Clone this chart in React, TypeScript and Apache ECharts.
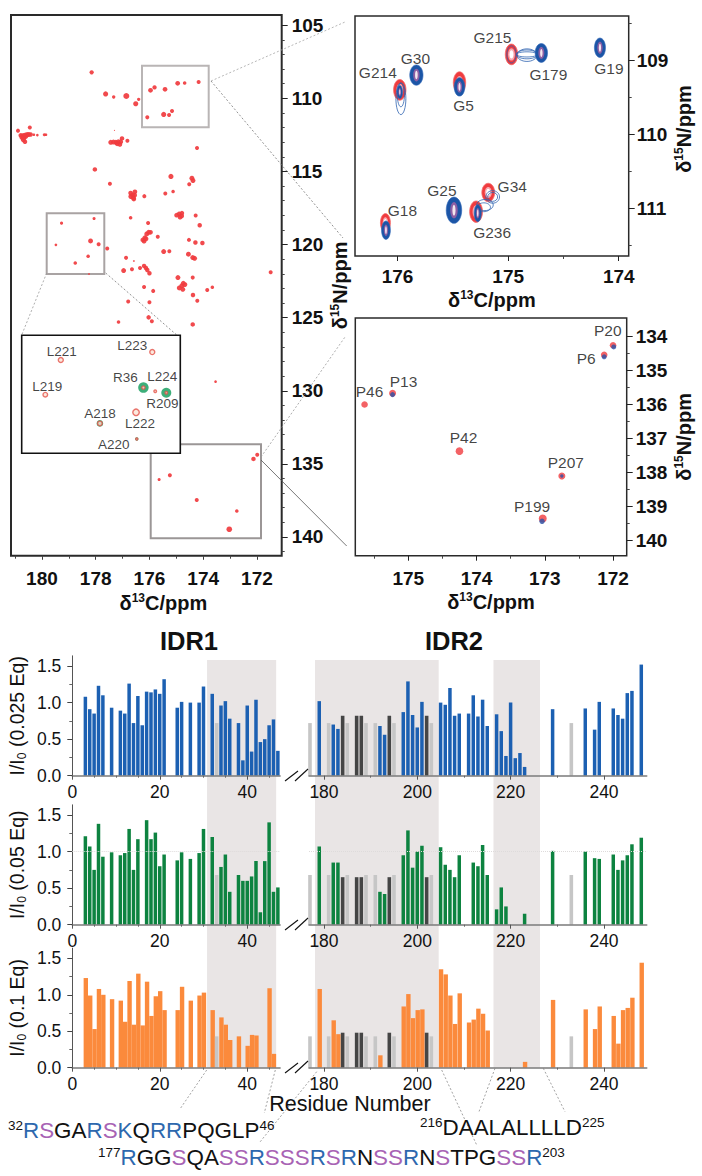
import React, { useEffect, useRef } from "react";
import * as echarts from "echarts";

const FONT = "Liberation Sans";

// ---------- overview 13C/15N spectrum: [δ13C, δ15N, peak strength]
const overviewPeaks = [
  [178.15,108.22,3.8],[177.63,109.70,4.6],[177.33,109.91,3],[176.86,109.84,5.4],[176.51,110.37,4.6],[176.40,110.07,3],
  [175.96,109.45,4.2],[175.81,109.25,3.8],[175.42,109.38,4.2],[174.95,108.97,4.2],[174.69,108.95,3.2],[174.17,108.88,3.6],
  [176.08,111.30,3.6],[175.47,111.10,4.6],[175.27,111.14,3.6],[175.16,110.87,3.6],
  [180.89,112.21,3.6],[180.45,111.99,3.6],[180.79,112.53,4],[180.72,112.56,4.5],[180.65,112.53,4.5],[180.57,112.49,4.5],[180.50,112.47,4.5],[180.42,112.47,4],
  [180.74,112.67,4.5],[180.67,112.69,4.5],[180.60,112.60,4.5],[180.69,112.83,4.5],[180.63,112.97,4],
  [180.30,112.49,2.4],[180.17,112.51,2.4],[179.91,112.49,2.8],[179.85,112.49,2.4],[177.30,112.19,1],
  [177.44,113.01,4.4],[177.34,112.99,4.4],[177.25,113.01,4.4],[177.16,112.97,4.4],[177.07,112.97,4.4],[177.02,112.74,4],[177.10,113.15,4.2],[177.20,113.11,4.2],
  [176.82,112.90,3.6],[174.23,113.40,3.6],[178.03,114.86,4],[177.47,115.84,3.6],[175.20,115.34,4.6],[174.42,115.46,4.4],[174.38,115.62,4.4],[174.52,115.87,3.6],
  [175.41,116.51,3.6],[175.12,116.37,3.2],[176.19,116.69,3.6],
  [176.70,116.48,4.2],[176.63,116.62,4.5],[176.54,116.39,4.2],[176.69,116.71,4.5],[176.60,116.80,4.5],[176.55,116.62,4.2],[176.58,116.89,4.2],
  [174.99,117.99,4.2],[174.89,117.90,4.2],[174.80,118.04,4.2],[174.86,118.13,4.2],[174.79,117.85,4],
  [174.28,118.01,3.6],[174.13,118.68,4],[176.70,118.17,3.2],[176.05,118.52,3.6],
  [176.25,119.68,4],[176.17,119.54,4.4],[176.10,119.27,4.4],[176.03,119.16,4.4],[175.96,119.16,4.2],[176.20,119.77,4.2],[176.13,119.61,4.4],
  [175.69,119.47,3.6],[174.53,119.68,3.6],[174.29,119.86,4],[174.03,119.89,4],[177.57,120.27,3.6],[175.47,120.48,4.4],[175.26,120.46,3.6],[174.55,120.66,4.4],
  [174.39,120.89,4.4],[174.32,120.94,4.4],[176.87,120.91,3.6],[176.58,121.12,1.5],[176.96,121.78,4.4],[176.65,121.69,3.6],[176.35,121.60,3.6],
  [176.20,121.46,4],[176.13,121.60,4],[176.08,121.74,4],[176.00,121.96,4],[174.94,122.26,4.4],[174.39,122.26,3.6],[171.49,121.89,3.6],[176.20,122.90,3.6],[175.86,123.17,3.6],
  [174.74,122.65,4.4],[174.80,122.83,4.4],[174.89,122.97,4.4],[174.76,123.06,4.4],[174.68,122.74,4.2],
  [174.38,123.45,4],[173.85,123.11,3.6],[173.66,122.92,3.2],[174.22,123.84,3.6],[176.79,123.90,3.6],[176.00,123.95,3.6],
  [176.03,124.98,4],[175.91,125.25,3.6],[177.15,125.30,3.2],[174.39,125.46,4],[173.54,129.38,2.4],[171.99,134.38,3.6],[172.13,134.66,4],[175.24,135.78,3.6],
  [175.64,136.07,2.8],[174.24,137.47,3.6],[172.75,138.22,3.2],[173.03,139.47,5],
  [179.27,118.54,2.8],[178.06,118.22,2.8],[178.19,119.75,4.4],[177.89,119.98,3.6],[179.48,120.02,2.4],[178.28,120.80,3.2],[178.76,121.26,3.2],[178.25,122.01,1.5],
];

// ---------- expanded L/A/R region: names, [δ13C, δ15N, strength]
const insetPeakNames = ["L221","L223","L219","R36","L224","R209","L222","A218","A220"];
const insetRedPeaks = [[179.30,118.77,5],[178.06,118.49,5],[179.51,119.99,4.6],[178.18,119.74,3.2],[178.02,119.87,2.6],[177.87,119.92,2.4],[178.28,120.61,6.5],[178.77,121.00,4.6],[178.27,121.55,2]];
const insetGreenPeaks = [[178.18,119.74,10.5],[177.87,119.92,10],[178.77,121.00,6.6],[178.27,121.55,3.4]];

// ---------- expanded glycine region: [δ13C, δ15N, half-width C, half-width N]
const glycineNames = ["G214","G30","G5","G215","G179","G19","G34","G236","G25","G18"];
const glycineCentres = [[175.98,109.40],[175.83,109.20],[175.44,109.33],[174.97,108.92],[174.70,108.90],[174.17,108.83],[175.18,110.79],[175.29,111.05],[175.49,111.03],[176.11,111.23]];
const glycineRed = [[175.98,109.40,.056,.14],[175.44,109.30,.056,.145],[174.97,108.92,.056,.14],[175.18,110.79,.058,.125],[175.29,111.05,.058,.145],[176.11,111.20,.045,.125]];
const glycineBlue = [[175.83,109.20,.06,.138],[175.44,109.36,.048,.125],[174.70,108.90,.056,.128],[174.17,108.83,.05,.132],[175.49,111.03,.07,.178],[176.105,111.30,.04,.125],[175.275,111.07,.032,.115],[175.98,109.43,.025,.09]];
const glycineContours = [[175.97,109.52,.045,.215],[175.97,109.47,.032,.16],[174.97,108.92,.042,.115],[174.83,108.92,.095,.035],[174.83,108.92,.095,.06],[174.83,108.93,.09,.085],[175.14,110.85,.062,.085],[175.14,110.85,.045,.06],[175.21,110.96,.075,.075],[175.22,110.99,.06,.06]];

// ---------- expanded proline region
const prolineNames = ["P20","P6","P13","P46","P42","P207","P199"];
const prolineRed = [[172.0,134.27,6.6],[172.13,134.55,6.6],[175.23,135.68,7],[175.64,136.01,6.6],[174.25,137.38,7.6],[172.75,138.11,7],[173.03,139.36,8]];
const prolineBlue = [[171.99,134.32,5],[172.13,134.61,5],[175.23,135.72,5],[172.75,138.11,3.4],[173.04,139.44,5.4]];
const prolineCentres = [[171.99,134.31],[172.13,134.60],[175.23,135.71],[175.64,136.01],[174.25,137.38],[172.75,138.11],[173.04,139.43]];

// ---------- intensity ratios: [residue, I/I0]
const blueLeft = [[3,1.08],[4,.91],[5,.85],[6,1.23],[7,1.10],[9,.93],[11,.89],[12,.85],[13,1.26],[14,.72],[15,1.09],[16,.69],[17,1.15],[18,1.14],[19,1.18],[20,1.12],[21,1.32],[24,.93],[25,1.01],[27,1.00],[29,1.00],[30,1.22],[32,1.12],[34,.96],[35,1.02],[36,.78],[38,.72],[39,.21],[40,.96],[41,.33],[42,1.04],[43,.46],[44,.50],[45,.69],[46,.77],[47,.34]];
const blueRight = [[179,1.02],[182,.70],[183,.64],[192,.68],[193,.56],[197,.87],[198,1.29],[199,.83],[200,.66],[201,1.01],[205,1.00],[206,.97],[207,1.20],[208,.82],[209,.85],[211,.85],[212,1.10],[213,.81],[214,1.04],[215,.68],[217,.84],[218,.61],[219,.27],[220,1.00],[221,.24],[222,.31],[223,.12],[229,.91],[236,.92],[238,.63],[239,1.01],[242,.92],[243,.83],[244,.78],[245,1.13],[246,1.16],[248,1.52]];
const greenLeft = [[3,1.21],[4,1.07],[5,.75],[6,1.38],[7,.93],[9,.99],[11,.95],[12,.98],[13,1.31],[14,.75],[15,1.17],[17,1.43],[18,1.17],[19,1.26],[20,.80],[21,.96],[24,.88],[25,.99],[27,.90],[29,.98],[30,1.31],[32,1.20],[34,.79],[35,.96],[36,.45],[38,.68],[39,.60],[40,.60],[41,.66],[42,.87],[43,.17],[44,.87],[45,1.40],[46,.45],[47,.51]];
const greenRight = [[179,1.07],[182,.85],[183,.85],[192,.45],[193,.42],[197,.95],[198,1.29],[199,.78],[200,1.00],[201,1.08],[205,1.06],[206,.82],[207,.75],[208,.65],[209,.95],[212,.85],[213,.80],[214,1.09],[215,.68],[217,.21],[218,.51],[219,.25],[223,.15],[229,1.01],[236,1.00],[238,.91],[239,.90],[242,.96],[243,.75],[244,.88],[245,.95],[246,1.10],[248,1.19]];
const orangeLeft = [[3,1.23],[4,.99],[5,.53],[6,1.08],[7,1.00],[9,.94],[11,.92],[12,.63],[13,1.19],[14,.59],[15,1.29],[16,.58],[17,1.18],[18,.71],[19,.98],[20,1.05],[21,.79],[24,.79],[25,1.11],[27,.92],[29,.99],[30,1.03],[32,.79],[34,.69],[35,.59],[36,.38],[38,.43],[40,.30],[41,.45],[42,.44],[45,1.09],[46,.19]];
const orangeRight = [[179,1.08],[182,.65],[183,.46],[192,.17],[197,.84],[198,1.01],[199,.68],[200,.79],[201,.80],[205,1.35],[206,1.28],[207,.99],[208,.60],[209,1.02],[211,.62],[212,.66],[213,.81],[214,.74],[215,.51],[223,.08],[229,.93],[236,.80],[238,.53],[239,.84],[242,.71],[243,.33],[244,.79],[245,.82],[246,.96],[248,1.44]];

const unassignedLeft = [33];
const unassignedRight = [177,181,185,189,191,195,203,233];
const overlappedRight = [184,187,188,194,202];
const unassignedValues = [.72,.68,.43];
const overlappedValues = [.82,.65,.48];

const idrRangesLeft = [[30.8,46.6]];
const idrRangesRight = [[178.07,204.58],[216.32,226.28]];

const doseLabels = ["0.025","0.05","0.1"];
const ratioTicks = [0,.5,1,1.5];
const ratioMinorTicks = [.25,.75,1.25];
const residueTicksLeft = [0,20,40];
const residueMinorLeft = [5,10,15,25,30,35,45];
const residueTicksRight = [180,200,220,240];
const residueMinorRight = [190,210,230];

const overviewCTicks = [172,174,176,178,180];
const overviewCMinor = [172,173,174,175,176,177,178,179,180,181];
const overviewNTicks = [105,110,115,120,125,130,135,140];
const overviewNMinor = [106,107,108,109,111,112,113,114,116,117,118,119,121,122,123,124,126,127,128,129,131,132,133,134,136,137,138,139,141];

const glycineCTicks = [174,175,176];
const glycineCMinor = [174.5,175.5];
const glycineNTicks = [109,110,111];
const glycineNMinor = [108.5,109.5,110.5,111.5];
const prolineCTicks = [172,173,174,175];
const prolineCMinor = [172.5,173.5,174.5,175.5];
const prolineNTicks = [134,135,136,137,138,139,140];
const prolineNMinor = [134.5,135.5,136.5,137.5,138.5,139.5];

// ---------- sequence strings; each residue's class drives its colour
const seqIDR1 = "RSGARSKQRRPQGLP";
const seqIDR2 = "RGGSQASSRSSSRSRNSSRNSTPGSSR";
const seqLoop = "DAALALLLLD";

// ---------- label placement tables (screen px from the peak)
const insetOffsets = [[1,-9],[-20,-7],[2,-8],[-18,-10],[7,-15],[-4,11],[4,11],[0,-10],[-23,5]];
const glycineOffsets = [[-22,-17],[-1,-17],[4,21],[-19,-17],[7,22],[9,21],[24,-6],[16,21],[-12,-20],[17,-14]];
const prolineOffsets = [[-6,-16],[-18,2],[11,-13],[5,-13],[4,-14],[4,-14],[-10,-14]];

const seqMarkup = (s: string, startNo: string, endNo: string) =>
  `{sup|${startNo}}` +
  s.split("").map((c) => (c === "R" || c === "K" ? `{b|${c}}` : c === "S" ? `{p|${c}}` : `{k|${c}}`)).join("") +
  `{sup|${endNo}}`;

const SEQ_SIZE = 22.4;
const seqRich = {
  k: { fontFamily: FONT, fontSize: SEQ_SIZE, fill: "#111", color: "#111", lineHeight: 24 },
  b: { fontFamily: FONT, fontSize: SEQ_SIZE, fill: "#2d68ae", color: "#2d68ae", lineHeight: 24 },
  p: { fontFamily: FONT, fontSize: SEQ_SIZE, fill: "#a863b4", color: "#a863b4", lineHeight: 24 },
  sup: { fontFamily: FONT, fontSize: 13.5, fill: "#111", color: "#111", lineHeight: 24, verticalAlign: "top" as const, padding: [0, 0, 8, 0] },
};

const nuc = (mass: string, el: string) => `{a|δ}{s|${mass}}{a|${el}/ppm}`;
const nucRich = {
  a: { fontFamily: FONT, fontSize: 20, fontWeight: "bold" as const, color: "#111", lineHeight: 22 },
  s: { fontFamily: FONT, fontSize: 12, fontWeight: "bold" as const, color: "#111", lineHeight: 16, verticalAlign: "top" as const },
};

const ratioRich = {
  a: { fontFamily: FONT, fontSize: 19.5, color: "#111", lineHeight: 22 },
  s: { fontFamily: FONT, fontSize: 12, color: "#111", lineHeight: 14, verticalAlign: "bottom" as const },
};

const RED = "#f03b3e";
const BLUE = "#1c55a6";

export default function App() {
  const ref = useRef<HTMLDivElement>(null);
  useEffect(() => {
    const chart = echarts.init(ref.current!, null, { renderer: "svg" });

    const grids: any[] = [];
    const xAxes: any[] = [];
    const yAxes: any[] = [];
    const series: any[] = [];

    const addGrid = (left: number, top: number, width: number, height: number, border = 0) => {
      grids.push({ left, top, width, height, containLabel: false, show: border > 0, borderColor: "#2a2a2a", borderWidth: border, backgroundColor: "transparent" });
      return grids.length - 1;
    };

    const nmrPair = (g: number, x: any, y: any) => {
      const common = (s: any) => ({
        type: "value", gridIndex: g, min: s.min, max: s.max, inverse: s.inverse, splitLine: { show: false }, axisLine: { show: false },
      });
      const labelStyle = { fontFamily: FONT, fontSize: 19, fontWeight: "bold", color: "#111" };
      const xi = xAxes.length;
      xAxes.push({
        ...common(x), position: "bottom",
        axisTick: { show: true, customValues: x.ticks, length: x.tickLen ?? 5, lineStyle: { color: "#222", width: 1 } },
        axisLabel: { show: true, customValues: x.ticks, margin: x.margin, ...labelStyle },
        name: x.name, nameLocation: "middle", nameGap: x.gap, nameMoveOverlap: false,
        nameTextStyle: { rich: nucRich, padding: x.padding ?? 0 },
      });
      xAxes.push({
        ...common(x), position: "bottom",
        axisTick: { show: true, customValues: x.minor, length: 3, lineStyle: { color: "#444", width: 1 } },
        axisLabel: { show: false },
      });
      const yi = yAxes.length;
      yAxes.push({
        ...common(y), position: "right", inverse: true,
        axisTick: { show: true, customValues: y.ticks, length: y.tickLen ?? 6, lineStyle: { color: "#222", width: 1 } },
        axisLabel: { show: true, customValues: y.ticks, margin: y.margin, ...labelStyle },
        name: y.name, nameLocation: "middle", nameGap: y.gap, nameRotate: 90, nameMoveOverlap: false,
        nameTextStyle: { rich: nucRich, padding: y.padding ?? 0 },
      });
      yAxes.push({
        ...common(y), position: "right", inverse: true,
        axisTick: { show: true, customValues: y.minor, length: 3, lineStyle: { color: "#444", width: 1 } },
        axisLabel: { show: false },
      });
      return { xi, yi };
    };

    // ---- overview panel
    const gMain = addGrid(11, 15, 270.7, 540.7, 2);
    const main = nmrPair(
      gMain,
      { min: 171.08, max: 181.15, inverse: true, ticks: overviewCTicks, minor: overviewCMinor, margin: 13, name: nuc("13", "C"), gap: 36, padding: [0, 0, 0, 34], tickLen: 4 },
      { min: 104.3, max: 141.28, ticks: overviewNTicks, minor: overviewNMinor, margin: 10, name: nuc("15", "N"), gap: 47, tickLen: 6 },
    );
    series.push({
      type: "scatter", xAxisIndex: main.xi, yAxisIndex: main.yi, z: 2, data: overviewPeaks,
      symbolSize: (v: number[]) => v[2] * 1.12, itemStyle: { color: RED, opacity: 0.92 },
    });

    // ---- inset with assigned L / A / R peaks
    const gInset = addGrid(21.7, 335.3, 158.6, 118);
    const insetX = xAxes.length;
    xAxes.push({ type: "value", gridIndex: gInset, min: 177.68, max: 179.83, inverse: true, show: false });
    const insetY = yAxes.length;
    yAxes.push({ type: "value", gridIndex: gInset, min: 117.9, max: 122.05, inverse: true, show: false });
    series.push({
      type: "scatter", xAxisIndex: insetX, yAxisIndex: insetY, z: 7, data: insetGreenPeaks,
      symbolSize: (v: number[]) => v[2], itemStyle: { color: "#0c9a58" },
    });
    series.push({
      type: "scatter", xAxisIndex: insetX, yAxisIndex: insetY, z: 8,
      data: insetRedPeaks.map((p, i) => ({
        name: insetPeakNames[i], value: p,
        label: { offset: insetOffsets[i] },
      })),
      symbolSize: (v: number[]) => v[2],
      itemStyle: { color: "#fbe3d4", borderColor: "#e4524a", borderWidth: 1.4 },
      label: { show: true, position: "inside", formatter: "{b}", fontFamily: FONT, fontSize: 13.5, color: "#111" },
    });

    // ---- glycine panel
    const gGly = addGrid(355, 16, 273.7, 240, 1.5);
    const gly = nmrPair(
      gGly,
      { min: 173.91, max: 176.385, inverse: true, ticks: glycineCTicks, minor: glycineCMinor, margin: 11, name: nuc("13", "C"), gap: 33, tickLen: 5 },
      { min: 108.4, max: 111.65, ticks: glycineNTicks, minor: glycineNMinor, margin: 8, name: nuc("15", "N"), gap: 44, tickLen: 6, padding: [0, 0, 0, 14] },
    );
    const ell = (cx: number, cy: number, rx: number, ry: number, style: any) => ({ type: "ellipse", shape: { cx, cy, rx, ry }, style });
    const peakGeom = (api: any) => {
      const c = api.coord([api.value(0), api.value(1)]);
      const e = api.coord([api.value(0) + api.value(2), api.value(1) + api.value(3)]);
      return { cx: c[0], cy: c[1], rx: Math.abs(e[0] - c[0]), ry: Math.abs(e[1] - c[1]) };
    };
    const customBase = { type: "custom", xAxisIndex: gly.xi, yAxisIndex: gly.yi, encode: { x: 0, y: 1 }, clip: true };
    series.push({
      ...customBase, z: 3, data: glycineRed,
      renderItem: (_: any, api: any) => {
        const { cx, cy, rx, ry } = peakGeom(api);
        return {
          type: "group",
          children: [
            ell(cx, cy, rx, ry, { fill: RED, stroke: "#f36b6b", lineWidth: 0.8 }),
            ell(cx, cy, rx * 0.55, ry * 0.6, { fill: "#f7a8b0" }),
            ell(cx, cy, rx * 0.32, ry * 0.4, { fill: "#ffffff" }),
          ],
        };
      },
    });
    series.push({
      ...customBase, z: 4, data: glycineContours,
      renderItem: (_: any, api: any) => {
        const { cx, cy, rx, ry } = peakGeom(api);
        return { type: "group", children: [ell(cx, cy, rx, ry, { fill: "none", stroke: "#2d62b0", lineWidth: 0.8 })] };
      },
    });
    series.push({
      ...customBase, z: 5, data: glycineBlue,
      renderItem: (_: any, api: any) => {
        const { cx, cy, rx, ry } = peakGeom(api);
        return {
          type: "group",
          children: [
            ell(cx, cy, rx, ry, { fill: BLUE, stroke: "#2f68b8", lineWidth: 0.6 }),
            ell(cx, cy, rx * 0.48, ry * 0.62, { fill: "#8d5fa4" }),
            ell(cx, cy, rx * 0.2, ry * 0.42, { fill: "#f4e6ee" }),
          ],
        };
      },
    });
    series.push({
      type: "scatter", xAxisIndex: gly.xi, yAxisIndex: gly.yi, z: 6,
      data: glycineCentres.map((p, i) => ({ name: glycineNames[i], value: p, label: { offset: glycineOffsets[i] } })),
      symbolSize: 1, itemStyle: { color: "rgba(0,0,0,0)" },
      label: { show: true, position: "inside", formatter: "{b}", fontFamily: FONT, fontSize: 15.5, color: "#111" },
    });

    // ---- proline panel
    const gPro = addGrid(355.3, 318, 271.4, 237.7, 1.5);
    const pro = nmrPair(
      gPro,
      { min: 171.8, max: 175.776, inverse: true, ticks: prolineCTicks, minor: prolineCMinor, margin: 13, name: nuc("13", "C"), gap: 35, tickLen: 5 },
      { min: 133.47, max: 140.45, ticks: prolineNTicks, minor: prolineNMinor, margin: 9, name: nuc("15", "N"), gap: 46, tickLen: 6 },
    );
    series.push({
      type: "scatter", xAxisIndex: pro.xi, yAxisIndex: pro.yi, z: 3, data: prolineRed,
      symbolSize: (v: number[]) => v[2], itemStyle: { color: RED },
    });
    series.push({
      type: "scatter", xAxisIndex: pro.xi, yAxisIndex: pro.yi, z: 4, data: prolineBlue,
      symbolSize: (v: number[]) => v[2], itemStyle: { color: "#2a52a8" },
    });
    series.push({
      type: "scatter", xAxisIndex: pro.xi, yAxisIndex: pro.yi, z: 6,
      data: prolineCentres.map((p, i) => ({ name: prolineNames[i], value: p, label: { offset: prolineOffsets[i] } })),
      symbolSize: 1, itemStyle: { color: "rgba(0,0,0,0)" },
      label: { show: true, position: "inside", formatter: "{b}", fontFamily: FONT, fontSize: 15.5, color: "#111" },
    });

    // ---- continuous IDR shading behind the three bar panels
    const LEFT_X = 72.3, LEFT_W = 207.8, LEFT_MAX = 47.5;
    const RIGHT_X = 309, RIGHT_W = 337.7, RIGHT_MIN = 176.79, RIGHT_MAX = 249.15;
    const shade = (left: number, width: number, min: number, max: number, ranges: number[][]) => {
      const g = addGrid(left, 660, width, 407.7);
      const xi = xAxes.length;
      xAxes.push({ type: "value", gridIndex: g, min, max, show: false });
      const yi = yAxes.length;
      yAxes.push({ type: "value", gridIndex: g, min: 0, max: 1, show: false });
      series.push({
        type: "custom", xAxisIndex: xi, yAxisIndex: yi, z: 0, data: ranges, encode: { x: [0, 1] },
        renderItem: (_: any, api: any) => {
          const a = api.coord([api.value(0), 1]);
          const b = api.coord([api.value(1), 0]);
          return { type: "rect", shape: { x: a[0], y: a[1], width: b[0] - a[0], height: b[1] - a[1] }, style: { fill: "#e9e5e5" } };
        },
      });
    };
    shade(LEFT_X, LEFT_W, 0, LEFT_MAX, idrRangesLeft);
    shade(RIGHT_X, RIGHT_W, RIGHT_MIN, RIGHT_MAX, idrRangesRight);

    // ---- bar panels
    const panelBase = [775.7, 924.7, 1067.7];
    const panelUnit = [73.1, 73.1, 72.9];
    const panelColour = ["#1c60b2", "#0d8340", "#fb8a3c"];
    const panelLeft = [blueLeft, greenLeft, orangeLeft];
    const panelRight = [blueRight, greenRight, orangeRight];
    const panelBarW = [3.5, 3.5, 4.4];
    const Y_MAX = 1.64;

    panelBase.forEach((base, p) => {
      const h = Y_MAX * panelUnit[p];
      const top = base - h;
      const gl = addGrid(LEFT_X, top, LEFT_W, h);
      const gr = addGrid(RIGHT_X, top, RIGHT_W, h);
      const xStyle = {
        axisLine: { show: true, onZero: false, lineStyle: { color: "#7b7b7b", width: 1.6 } },
      };
      const labelStyle = { fontFamily: FONT, fontSize: 17.5, color: "#111" };
      const lx = xAxes.length;
      xAxes.push({
        type: "value", gridIndex: gl, min: 0, max: LEFT_MAX, position: "bottom", z: 3, splitLine: { show: false }, ...xStyle,
        axisTick: { show: true, customValues: residueTicksLeft, length: 4, lineStyle: { color: "#555" } },
        axisLabel: { show: true, customValues: residueTicksLeft, margin: 7, ...labelStyle },
      });
      xAxes.push({
        type: "value", gridIndex: gl, min: 0, max: LEFT_MAX, position: "bottom", z: 3, splitLine: { show: false }, axisLine: { show: false },
        axisTick: { show: true, customValues: residueMinorLeft, length: 2, lineStyle: { color: "#666" } },
        axisLabel: { show: false },
      });
      const rx = xAxes.length;
      xAxes.push({
        type: "value", gridIndex: gr, min: RIGHT_MIN, max: RIGHT_MAX, position: "bottom", z: 3, splitLine: { show: false }, ...xStyle,
        axisTick: { show: true, customValues: residueTicksRight, length: 4, lineStyle: { color: "#555" } },
        axisLabel: { show: true, customValues: residueTicksRight, margin: 7, ...labelStyle },
      });
      xAxes.push({
        type: "value", gridIndex: gr, min: RIGHT_MIN, max: RIGHT_MAX, position: "bottom", z: 3, splitLine: { show: false }, axisLine: { show: false },
        axisTick: { show: true, customValues: residueMinorRight, length: 2, lineStyle: { color: "#666" } },
        axisLabel: { show: false },
      });
      const ly = yAxes.length;
      yAxes.push({
        type: "value", gridIndex: gl, min: 0, max: Y_MAX, position: "left", z: 3, splitLine: { show: false },
        axisLine: { show: true, lineStyle: { color: "#555", width: 1 } },
        axisTick: { show: true, customValues: ratioTicks, length: 5, lineStyle: { color: "#444" } },
        axisLabel: { show: true, customValues: ratioTicks, margin: 11, formatter: (v: number) => v.toFixed(1), ...labelStyle },
        name: `{a|I/I}{s|0}{a| (${doseLabels[p]} Eq)}`, nameLocation: "middle", nameRotate: 90, nameGap: 44, nameMoveOverlap: false,
        nameTextStyle: { rich: ratioRich, fontSize: 19.5, fontFamily: FONT, color: "#111" },
      });
      yAxes.push({
        type: "value", gridIndex: gl, min: 0, max: Y_MAX, position: "left", z: 3, splitLine: { show: false }, axisLine: { show: false },
        axisTick: { show: true, customValues: ratioMinorTicks, length: 3, lineStyle: { color: "#666" } },
        axisLabel: { show: false },
      });
      const ry = yAxes.length;
      yAxes.push({ type: "value", gridIndex: gr, min: 0, max: Y_MAX, show: false });

      const unityLine = p === 1
        ? { silent: true, symbol: "none", label: { show: false }, lineStyle: { color: "#dedbdb", type: "dotted", width: 1 }, data: [{ yAxis: 1 }] }
        : undefined;

      const bar = (xi: number, yi: number, data: number[][], color: string, width: number, extra: any = {}) => ({
        type: "bar", xAxisIndex: xi, yAxisIndex: yi, data, barWidth: width, barGap: "-100%", z: 2, itemStyle: { color }, ...extra,
      });

      series.push(bar(lx, ly, panelLeft[p], panelColour[p], panelBarW[p], unityLine ? { markLine: unityLine } : {}));
      series.push(bar(lx, ly, unassignedLeft.map((r) => [r, unassignedValues[p]]), "#c6c6c6", 3.6));
      series.push(bar(rx, ry, panelRight[p], panelColour[p], panelBarW[p], unityLine ? { markLine: unityLine } : {}));
      series.push(bar(rx, ry, unassignedRight.map((r) => [r, unassignedValues[p]]), "#c6c6c6", 3.6));
      series.push(bar(rx, ry, overlappedRight.map((r) => [r, overlappedValues[p]]), "#454545", 3.6));
    });

    // ---- annotation graphics
    const seg = (x1: number, y1: number, x2: number, y2: number, stroke = "#8a8a8a", dash: any = [2, 2], lineWidth = 0.8, z = 1) => ({
      type: "line", silent: true, z, shape: { x1, y1, x2, y2 }, style: { stroke, lineWidth, lineDash: dash },
    });
    const box = (x: number, y: number, w: number, h: number, stroke: string, lineWidth: number, fill = "none", z = 1) => ({
      type: "rect", silent: true, z, shape: { x, y, width: w, height: h }, style: { stroke, lineWidth, fill },
    });
    const breakMarks = (dy: number) => [
      seg(285, dy + 781, 298, dy + 771, "#111", null, 1.1, 4),
      seg(295, dy + 781, 308, dy + 769, "#111", null, 1.1, 4),
    ];
    const seqText = (x: number, y: number, text: string) => ({
      type: "text", silent: true, z: 4, x, y, style: { text, rich: seqRich, align: "left", verticalAlign: "middle", fontFamily: FONT, fontSize: 22 },
    });

    const graphics: any[] = [
      box(142, 65.7, 66.7, 61.6, "#b9b5b5", 2),
      box(46.7, 213.3, 57.6, 60.7, "#a9a3a3", 2),
      box(150.7, 444.3, 110.3, 94, "#9b9696", 2),
      seg(211, 81, 345, 22, "#a5a5a5"),
      seg(211, 81, 343, 238, "#777"),
      seg(46.7, 273, 21.7, 335, "#999"),
      seg(105.7, 273, 176.7, 335, "#777"),
      seg(261, 457, 345, 337, "#999"),
      seg(261, 460, 346.7, 546, "#555", null, 0.8),
      box(21.7, 335.3, 158.6, 118, "#111", 1.6, "#ffffff", 6),
      ...breakMarks(0),
      ...breakMarks(149),
      ...breakMarks(292),
      seg(206.7, 1070, 180, 1109),
      seg(275.3, 1070, 264.3, 1113),
      seg(316.7, 1071.7, 260, 1142),
      seg(441.7, 1070, 476.7, 1145),
      seg(495, 1068.3, 479, 1111.7),
      seg(543.3, 1068.3, 565, 1111.7),
      seqText(8, 1130, seqMarkup(seqIDR1, "32", "46")),
      seqText(98, 1157, seqMarkup(seqIDR2, "177", "203")),
      seqText(420, 1127, seqMarkup(seqLoop, "216", "225")),
    ];

    const titleStyle = { fontFamily: FONT, fontWeight: "bold" as const, fontSize: 25.5, color: "#111" };
    chart.setOption({
      animation: false,
      backgroundColor: "#ffffff",
      textStyle: { fontFamily: FONT },
      title: [
        { text: "IDR1", left: 189, top: 628, textAlign: "center", padding: 0, textStyle: titleStyle },
        { text: "IDR2", left: 454, top: 628, textAlign: "center", padding: 0, textStyle: titleStyle },
        { text: "Residue Number", left: 350, top: 1093, textAlign: "center", padding: 0, textStyle: { fontFamily: FONT, fontSize: 21.5, color: "#111", fontWeight: "normal" as const } },
      ],
      grid: grids,
      xAxis: xAxes,
      yAxis: yAxes,
      series,
      graphic: graphics,
    });
    return () => chart.dispose();
  }, []);
  return <div ref={ref} style={{ position: "absolute", left: 0, top: 0, width: 702, height: 1176, background: "#fff" }} />;
}
